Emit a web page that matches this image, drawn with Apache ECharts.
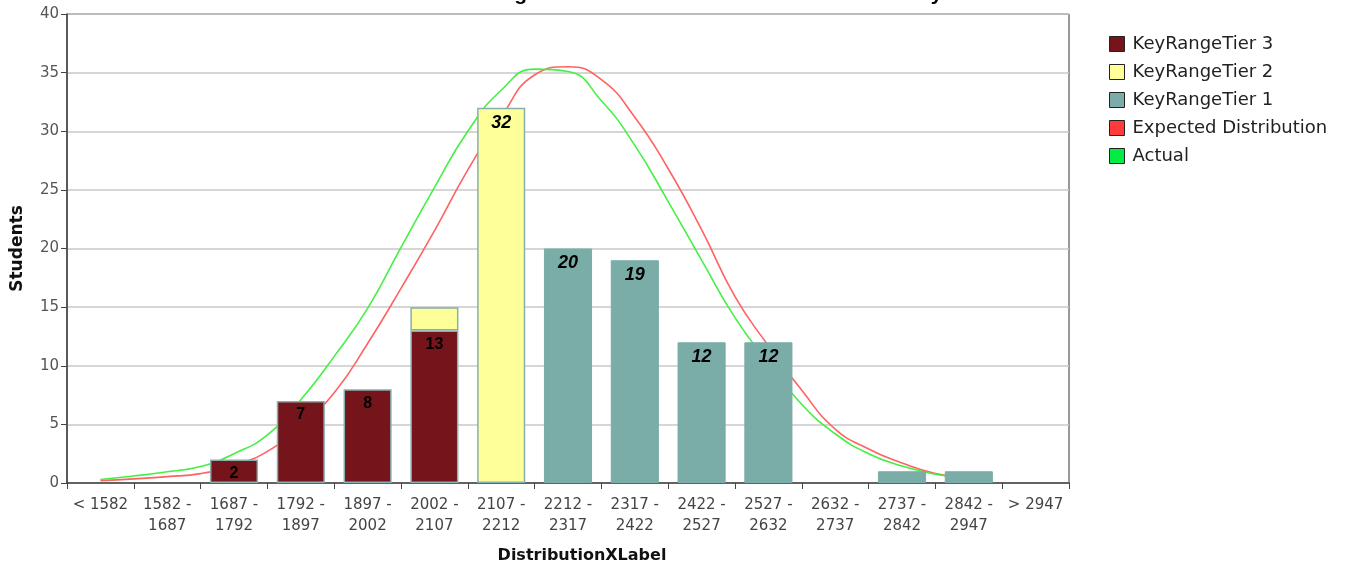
<!DOCTYPE html>
<html>
<head>
<meta charset="utf-8">
<script src="https://cdn.jsdelivr.net/npm/echarts@6/dist/echarts.min.js"></script>
<style>html,body{margin:0;padding:0;background:#fff}#c{width:1353px;height:569px}</style>
</head>
<body>
<div id="c"></div>
<script>
const titleText = 'Score Range Distribution of All Students in Summary';
const categories = ['< 1582','1582 -\n1687','1687 -\n1792','1792 -\n1897','1897 -\n2002','2002 -\n2107','2107 -\n2212','2212 -\n2317','2317 -\n2422','2422 -\n2527','2527 -\n2632','2632 -\n2737','2737 -\n2842','2842 -\n2947','> 2947'];
const tier3 = [null,null,2,7,8,13,null,null,null,null,null,null,null,null,null];
const tier2 = [null,null,null,null,null,2,32,null,null,null,null,null,null,null,null];
const tier1 = [null,null,null,null,null,null,null,20,19,12,12,null,1,1,null];
// curve sample positions, in category units (0.5 = centre of first category)
const curveX   = [0.5,1,1.5,2,2.5,3,3.5,4,4.5,5,5.5,6,6.5,7,7.5,8,8.5,9,9.5,10,10.5,11,11.5,12,12.5,13,13.5];
const expected = [0.2,0.35,0.54,0.8,1.5,2.7,4.9,7.7,11.9,16.6,21.5,26.7,31.2,34.8,35.5,34.4,31.2,26.8,21.6,15.9,11.7,7.9,4.6,2.9,1.7,0.8,0.4];
const actual   = [0.3,0.6,0.96,1.4,2.5,4.1,7.1,10.8,14.9,20.1,25.2,30.0,33.5,35.3,35.1,32.6,28.8,24.0,19.0,14.1,10.2,6.7,4.2,2.5,1.45,0.75,0.35];
const yTicks = {min:0, max:40, interval:5};

const C3 = '#76141b', C2 = '#ffff99', C1 = '#7aaca8', EDGE = '#86b0ac';
const chart = echarts.init(document.getElementById('c'), null, {renderer:'canvas'});
const font = 'Liberation Sans, Arial, sans-serif';
const dv = 'DejaVu Sans, sans-serif';
const barLabel = (italic, minV) => ({
  show:true, position:'insideTop', distance:6, color:'#000',
  fontFamily:font, fontSize: italic?18:16, fontWeight:'bold', fontStyle: italic?'italic':'normal',
  formatter: p => (p.value==null || p.value < minV) ? '' : String(p.value)
});
chart.setOption({
  animation:false,
  title:{text:titleText, left:'center', top:-21, textStyle:{fontFamily:font, fontSize:21, fontWeight:'bold', color:'#000'}},
  grid:{left:67, right:284, top:14, bottom:86, show:true, borderColor:'#333', borderWidth:1, backgroundColor:'#fff'},
  legend:{
    orient:'vertical', left:1104, top:30, itemWidth:15, itemHeight:15, itemGap:10, icon:'rect',
    itemStyle:{borderColor:'#222', borderWidth:1},
    textStyle:{fontFamily:dv, fontSize:18, color:'#222', lineHeight:18, padding:[0,0,0,3]},
    data:[
      {name:'KeyRangeTier 3'},
      {name:'KeyRangeTier 2'},
      {name:'KeyRangeTier 1'},
      {name:'Expected Distribution', itemStyle:{color:'#ff3b3b'}},
      {name:'Actual', itemStyle:{color:'#00ee44'}}
    ]
  },
  xAxis:[{
    type:'category', data:categories,
    name:'DistributionXLabel', nameLocation:'middle', nameGap:65,
    nameTextStyle:{fontFamily:dv, fontSize:16, fontWeight:'bold', color:'#111', padding:[0,0,0,28]},
    axisLine:{lineStyle:{color:'#444', width:1.5}},
    axisTick:{show:true, alignWithLabel:false, length:6, lineStyle:{color:'#444'}},
    axisLabel:{interval:0, fontFamily:dv, fontSize:15, color:'#444', margin:12, lineHeight:21},
    splitLine:{show:false}
  },{
    type:'value', min:0, max:15, show:false
  }],
  yAxis:{
    type:'value', min:yTicks.min, max:yTicks.max, interval:yTicks.interval,
    name:'Students', nameLocation:'middle', nameGap:41,
    nameTextStyle:{fontFamily:dv, fontSize:17, fontWeight:'bold', color:'#111'},
    axisLine:{show:true, lineStyle:{color:'#444', width:1.5}},
    axisTick:{show:true, length:6, lineStyle:{color:'#444'}},
    axisLabel:{fontFamily:dv, fontSize:15, color:'#555', margin:8},
    splitLine:{lineStyle:{color:'#c8c8c8', width:1.5}}
  },
  series:[
    {name:'Expected Distribution', type:'line', xAxisIndex:1, z:1, smooth:0.5, symbol:'none',
     lineStyle:{color:'#ff6262', width:1.6}, itemStyle:{color:'#ff6262'},
     data: curveX.map((x,i)=>[x, expected[i]])},
    {name:'Actual', type:'line', xAxisIndex:1, z:1, smooth:0.5, symbol:'none',
     lineStyle:{color:'#44f044', width:1.6}, itemStyle:{color:'#44f044'},
     data: curveX.map((x,i)=>[x, actual[i]])},
    {name:'KeyRangeTier 3', type:'bar', stack:'s', z:3, barWidth:'72%',
     itemStyle:{color:C3, borderColor:EDGE, borderWidth:1.5}, label:barLabel(false,0), data:tier3},
    {name:'KeyRangeTier 2', type:'bar', stack:'s', z:3, barWidth:'72%',
     itemStyle:{color:C2, borderColor:EDGE, borderWidth:1.5}, label:barLabel(true,5), data:tier2},
    {name:'KeyRangeTier 1', type:'bar', stack:'s', z:3, barWidth:'72%',
     itemStyle:{color:C1, borderColor:C1, borderWidth:1}, label:barLabel(true,5), data:tier1}
  ]
});
</script>
</body>
</html>
